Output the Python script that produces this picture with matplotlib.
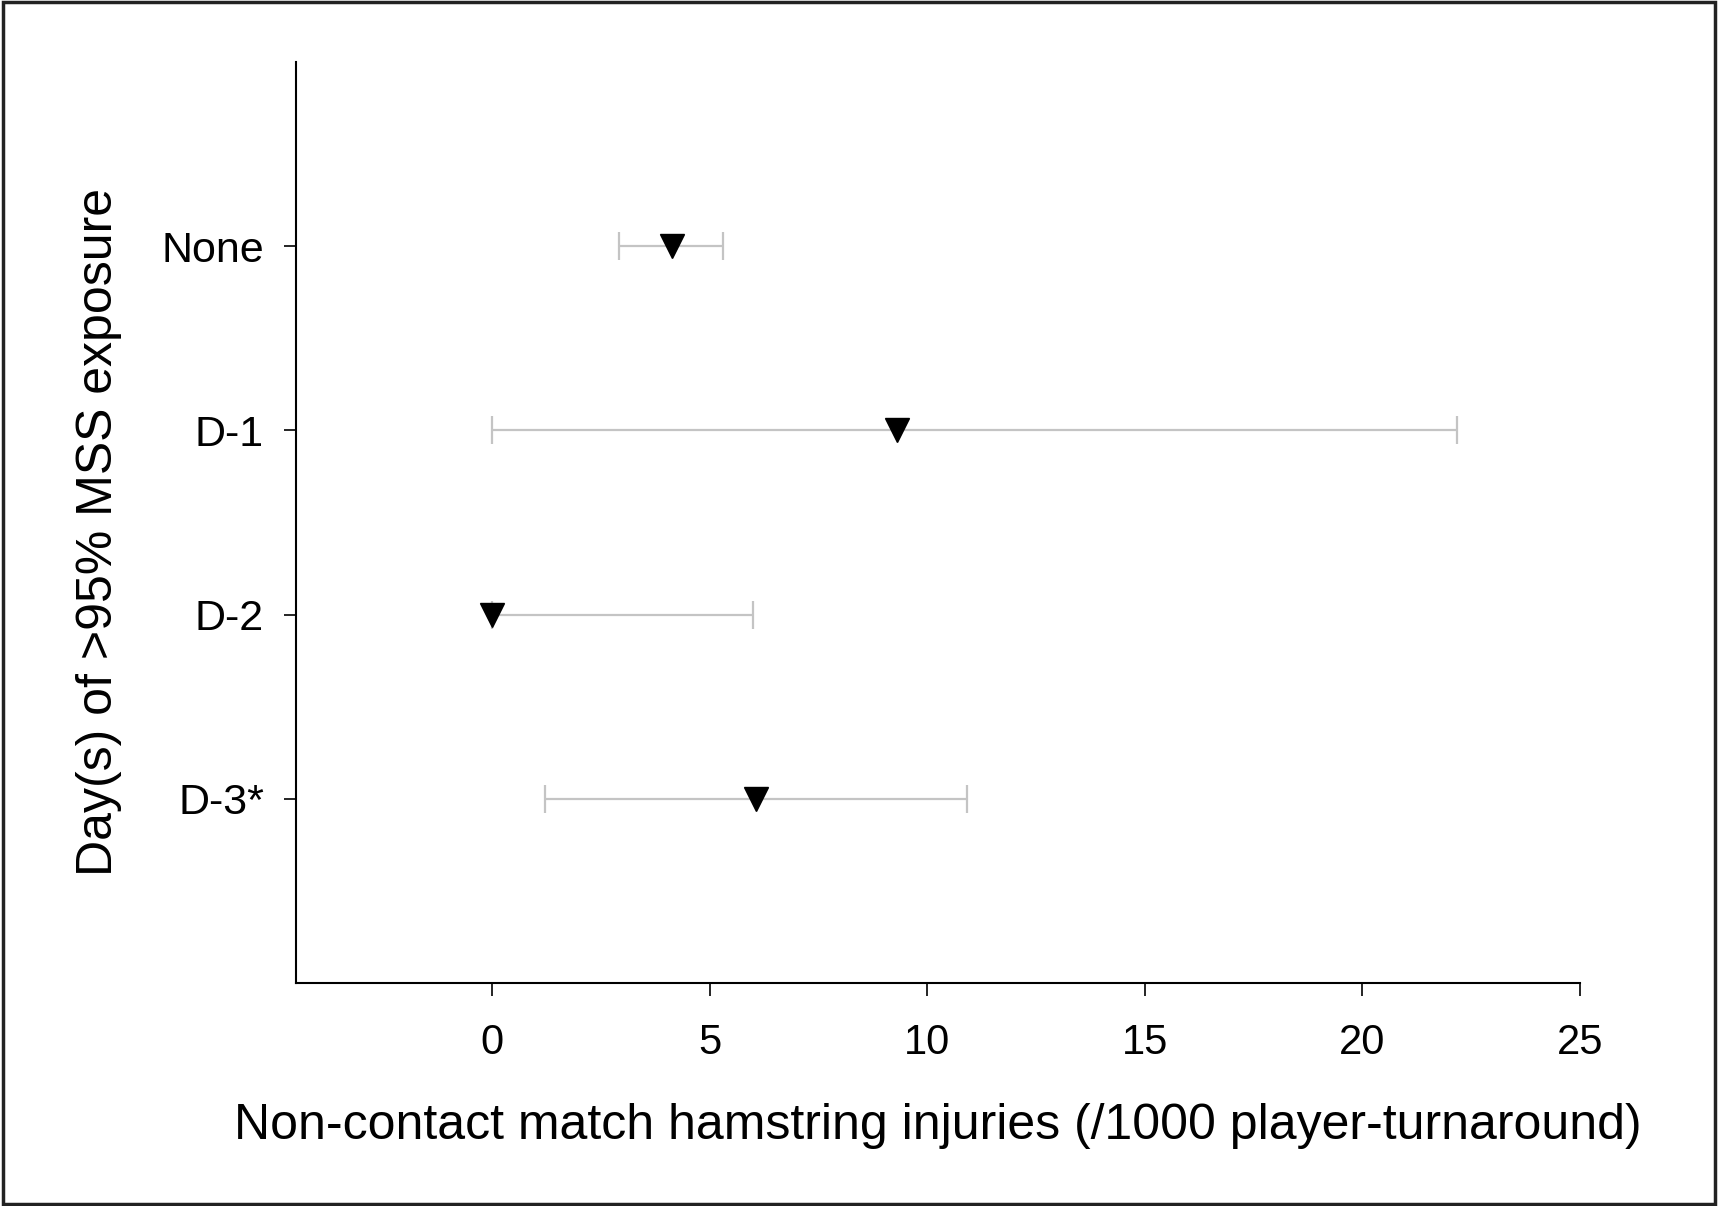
import numpy as np
import matplotlib
matplotlib.use("Agg")
import matplotlib.pyplot as plt
from matplotlib.patches import Rectangle

plt.rcParams['font.family'] = ['Liberation Sans', 'DejaVu Sans']

# data
categories = ['None', 'D-1', 'D-2', 'D-3*']
rates = [4.13, 9.30, 0.0, 6.06]
ci_low = [2.92, 0.0, 0.0, 1.23]
ci_high = [5.30, 22.17, 6.0, 10.91]
x_ticks = [0, 5, 10, 15, 20, 25]

fig = plt.figure(figsize=(17.18, 12.06), dpi=100)
ax = fig.add_axes([0.1723, 0.1849, 0.7474, 0.7637])

ypos = np.arange(len(categories), 0, -1)
rates = np.array(rates)
xerr = np.vstack([rates - np.array(ci_low), np.array(ci_high) - rates])

ax.errorbar(rates, ypos, xerr=xerr, fmt='none', ecolor='#c4c4c4',
            elinewidth=1.6, capsize=10, capthick=1.6, zorder=1)
ax.plot(rates, ypos, linestyle='none', marker='v', markersize=17,
        color='black', zorder=3)

ax.set_xlim(-4.5, 25)
ax.set_ylim(0, 5)
ax.set_xticks(x_ticks)
ax.set_yticks(ypos)
ax.set_yticklabels(categories)

for s in ['top', 'right']:
    ax.spines[s].set_visible(False)
for s in ['left', 'bottom']:
    ax.spines[s].set_linewidth(1.5)

ax.tick_params(axis='both', direction='out', length=9, width=1.2,
               labelsize=30, pad=12)
ax.tick_params(axis='y', labelsize=31, pad=14)
ax.tick_params(axis='x', pad=20)

ax.set_xlabel('Non-contact match hamstring injuries (/1000 player-turnaround)',
              fontsize=36, va='center')
ax.xaxis.set_label_coords(0.5, -0.155)
ax.set_ylabel('Day(s) of >95% MSS exposure', fontsize=36, va='center')
ax.yaxis.set_label_coords(-0.1537, 0.49)

# outer frame around the figure
fig.patches.append(Rectangle((0.0015, 0.002), 0.997, 0.996, transform=fig.transFigure,
                             fill=False, edgecolor='#222222', linewidth=2.5))

fig.savefig('out.png', dpi=100)
